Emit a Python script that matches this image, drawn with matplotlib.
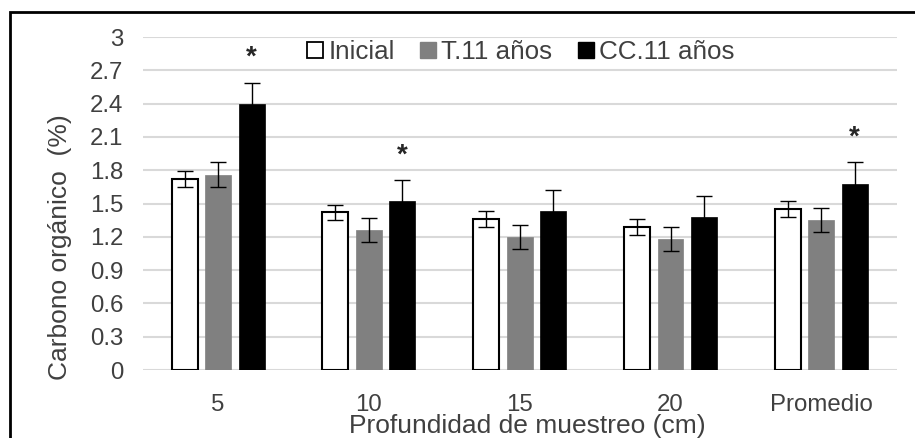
import matplotlib.pyplot as plt
import matplotlib.patches as mpatches
import numpy as np

plt.rcParams['font.family'] = ['Liberation Sans', 'DejaVu Sans']

# data
categorias = ['5', '10', '15', '20', 'Promedio']
inicial = [1.72, 1.42, 1.36, 1.29, 1.45]
inicial_err = [0.07, 0.07, 0.07, 0.07, 0.07]
t11 = [1.76, 1.26, 1.20, 1.18, 1.35]
t11_err = [0.11, 0.11, 0.11, 0.11, 0.11]
cc11 = [2.40, 1.52, 1.43, 1.38, 1.68]
cc11_err = [0.19, 0.19, 0.19, 0.19, 0.19]
signif = [True, True, False, False, True]

texto = '#404040'

fig = plt.figure(figsize=(9.15, 4.38), dpi=100)
ax = fig.add_axes([0.156, 0.155, 0.824, 0.7605])

x = np.arange(len(categorias))
w = 0.172
off = 0.222
ekw = dict(ecolor='black', elinewidth=1.0, capsize=6, capthick=1.0)

ax.bar(x - off, inicial, w, yerr=inicial_err, color='white', edgecolor='black',
       linewidth=1.5, error_kw=ekw, label='Inicial', zorder=3)
ax.bar(x, t11, w, yerr=t11_err, color='#808080', edgecolor='#808080',
       linewidth=0.5, error_kw=ekw, label='T.11 años', zorder=3)
ax.bar(x + off, cc11, w, yerr=cc11_err, color='black', edgecolor='black',
       linewidth=0.5, error_kw=ekw, label='CC.11 años', zorder=3)

# asterisks over significant CC bars
for i, s in enumerate(signif):
    if s:
        ax.text(x[i] + off, cc11[i] + cc11_err[i] + 0.22, '*', ha='center',
                va='center', fontsize=20, fontweight='bold', color='#262626')

ax.set_xlim(-0.5, len(categorias) - 0.5)
ax.set_ylim(0, 3)
ax.set_yticks(np.arange(0, 3.01, 0.3))
ax.set_yticklabels(['0', '0.3', '0.6', '0.9', '1.2', '1.5', '1.8', '2.1', '2.4', '2.7', '3'])
ax.set_xticks(x)
ax.set_xticklabels(categorias)
ax.tick_params(axis='both', length=0, labelsize=17.3, labelcolor=texto)
ax.tick_params(axis='x', pad=17)
ax.tick_params(axis='y', pad=14)
ax.yaxis.grid(True, color='#d9d9d9', linewidth=1.5, zorder=0)
ax.set_axisbelow(True)
for s in ax.spines.values():
    s.set_visible(False)

fig.text(0.066, 0.436, 'Carbono orgánico  (%)', rotation=90, ha='center',
         va='center', fontsize=19, color=texto)
fig.text(0.576, 0.027, 'Profundidad de muestreo (cm)', ha='center',
         va='center', fontsize=19, color=texto)

handles = [
    plt.Line2D([], [], marker='s', linestyle='none', markersize=12,
               markerfacecolor='white', markeredgecolor='black', markeredgewidth=1.3),
    plt.Line2D([], [], marker='s', linestyle='none', markersize=12,
               markerfacecolor='#808080', markeredgecolor='#808080'),
    plt.Line2D([], [], marker='s', linestyle='none', markersize=12,
               markerfacecolor='black', markeredgecolor='black'),
]
fig.legend(handles, ['Inicial', 'T.11 años', 'CC.11 años'], loc='center',
           bbox_to_anchor=(0.568, 0.881), ncol=3, frameon=False, fontsize=18.7,
           handlelength=0.8, handletextpad=0.1, columnspacing=0.9,
           labelcolor=texto)

# border round the chart
fig.patches.append(mpatches.Rectangle((10 / 915, -0.05), 1.1, (438 - 12) / 438 + 0.05,
                                      transform=fig.transFigure, fill=False,
                                      edgecolor='black', linewidth=2.0))

fig.savefig('out.png', dpi=100)
